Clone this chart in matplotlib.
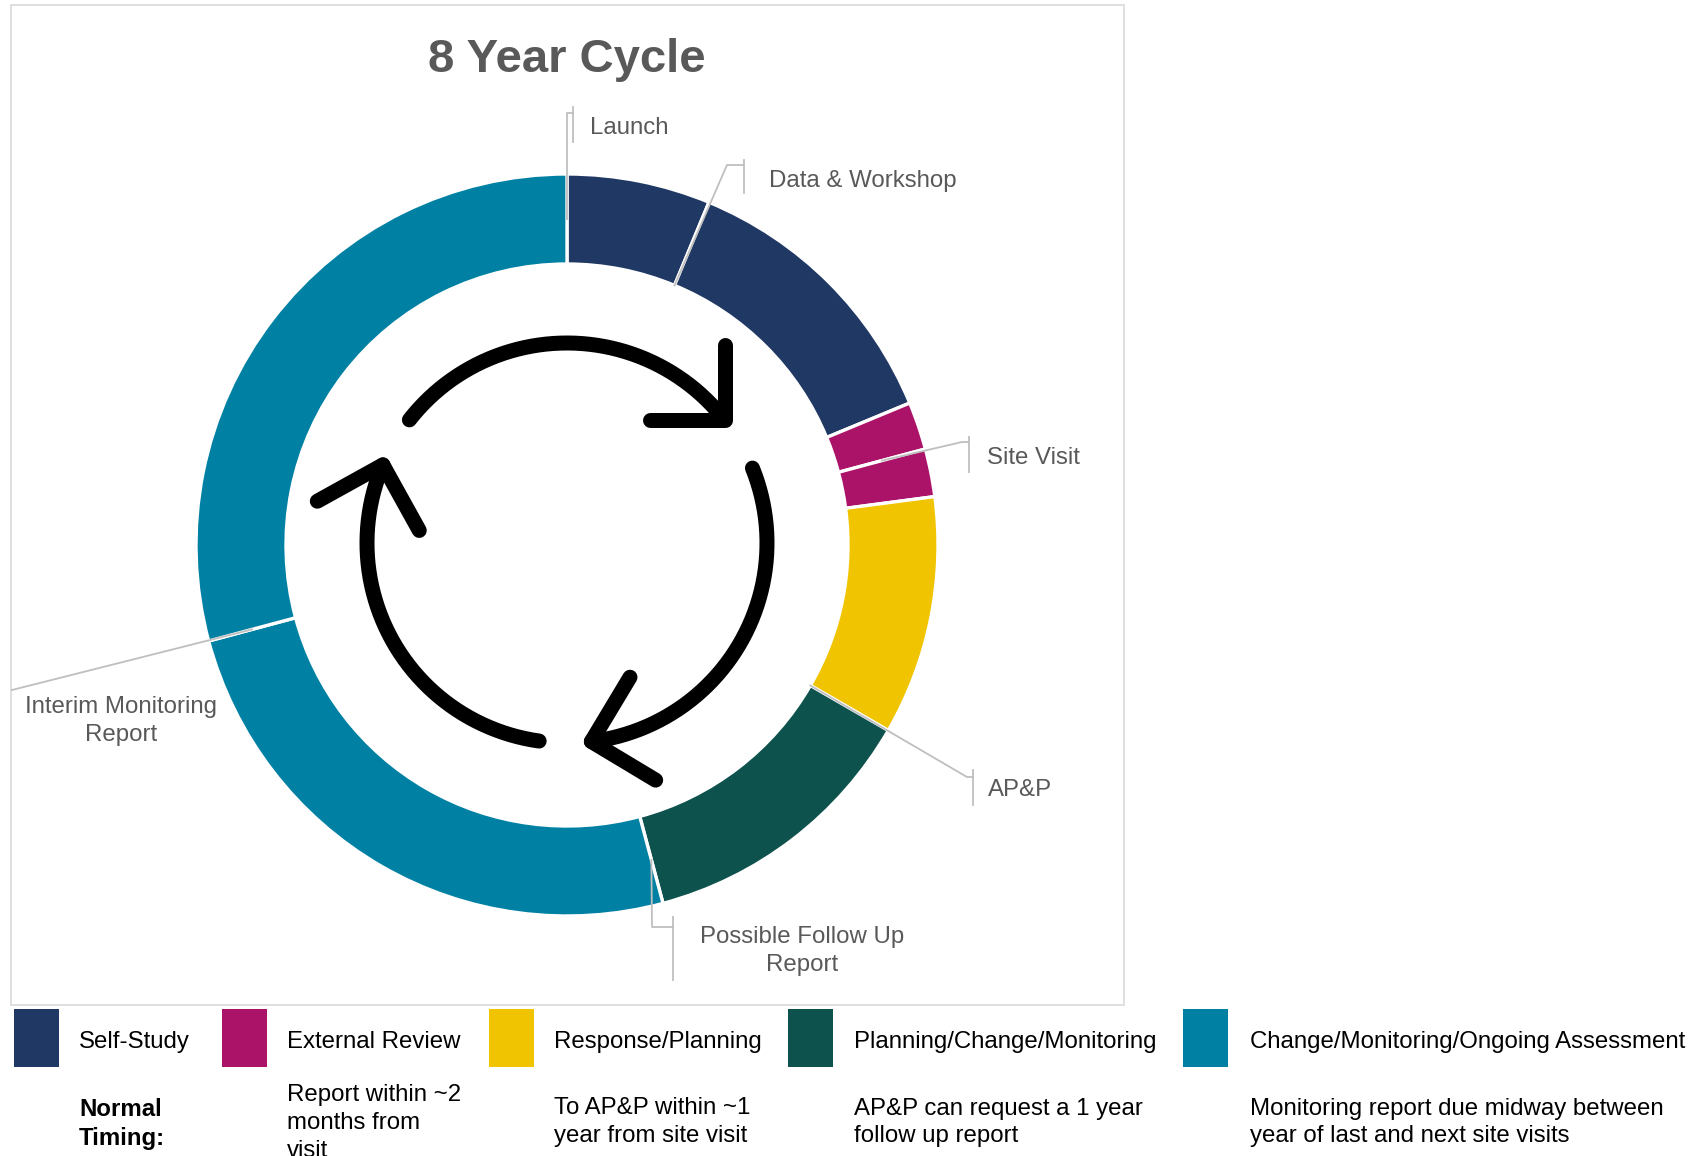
import numpy as np
import matplotlib
matplotlib.use("Agg")
import matplotlib.pyplot as plt
from matplotlib.patches import Rectangle

plt.rcParams['font.family'] = ['Liberation Sans', 'DejaVu Sans']

# ---------------- data ----------------
title = "8 Year Cycle"
segment_months = [6, 12, 2, 2, 10, 12, 24, 28]          # 96 months = 8 years
segment_phase = [0, 0, 1, 1, 2, 3, 4, 4]
phase_names = ["Self-Study", "External Review", "Response/Planning",
               "Planning/Change/Monitoring", "Change/Monitoring/Ongoing Assessment"]
phase_colors = ["#203864", "#AB1368", "#F0C400", "#0E524E", "#0080A3"]
timing_header = "Normal\nTiming:"
phase_timing = ["", "Report within ~2\nmonths from\nvisit", "To AP&P within ~1\nyear from site visit",
                "AP&P can request a 1 year\nfollow up report",
                "Monitoring report due midway between\nyear of last and next site visits"]
milestone_labels = ["Launch", "Data & Workshop", "Site Visit", "AP&P",
                    "Possible Follow Up\nReport", "Interim Monitoring\nReport"]
milestone_months = [0, 6, 20, 32, 44, 68]

# ---------------- layout ----------------
W, H = 1701, 1156
fig = plt.figure(figsize=(W / 100, H / 100), dpi=100)
ax = fig.add_axes([0, 0, 1, 1])

cx, cy = 567, H - 545
R_out, R_in = 371, 281
R_mid = (R_out + R_in) / 2
total = sum(segment_months)

ax.pie(segment_months, colors=[phase_colors[i] for i in segment_phase],
       radius=R_out, center=(cx, cy), startangle=90, counterclock=False,
       wedgeprops=dict(width=R_out - R_in, edgecolor='white', linewidth=2.4))
ax.set_xlim(0, W)
ax.set_ylim(0, H)
ax.set_aspect('auto')
ax.axis('off')


def S(x, ys):
    return (x, H - ys)


def polar(theta, r, c=(cx, cy)):
    t = np.deg2rad(theta)
    return (c[0] + r * np.sin(t), c[1] + r * np.cos(t))


LS = 1.34

# frame
ax.add_patch(Rectangle(S(11, 1005), 1113, 1000, fill=False, edgecolor='#D9D9D9', linewidth=1.2))

# title
ax.text(*S(567, 60.5), title, ha='center', va='center', fontsize=34, fontweight='bold', color='#595959')

# milestone leaders / labels
lead_col = '#BFBFBF'
start_r = [R_mid, R_in, R_mid, R_in, R_mid, R_mid]
paths = [[(567, 113), (573, 113)],
         [(727, 165), (744, 165)],
         [(962, 442), (969, 442)],
         [(967, 777), (973, 777)],
         [(652, 927), (673, 927)],
         [(12, 690)]]
bars = [(573, 107, 142), (744, 160, 193), (969, 437, 472), (973, 770, 805), (673, 917, 980), None]
text_pos = [(590, 127.5, 'left'), (769, 180.5, 'left'), (987, 457.5, 'left'), (988, 790, 'left'),
            (802, 951, 'center'), (121, 721, 'center')]
for lab, m, r, pth, bar, tp in zip(milestone_labels, milestone_months, start_r, paths, bars, text_pos):
    p0 = polar(360 * m / total, r)
    pts = [p0] + [S(*q) for q in pth]
    ax.plot([p[0] for p in pts], [p[1] for p in pts], color=lead_col, lw=1.3, zorder=5)
    if bar:
        ax.plot([bar[0], bar[0]], [H - bar[1], H - bar[2]], color=lead_col, lw=1.3, zorder=5)
    ax.text(*S(tp[0], tp[1]), lab, ha=tp[2], va='center', fontsize=17.3, color='#595959',
            multialignment='center', linespacing=LS)

# cycle arrows icon
ac = (cx, H - 543)
ar = 200
arcs = [(308, 412), (68, 173), (188, 293)]
for a0, a1 in arcs:
    th = np.linspace(a0, a1, 200)
    xs = ac[0] + ar * np.sin(np.deg2rad(th))
    ys = ac[1] + ar * np.cos(np.deg2rad(th))
    ax.plot(xs, ys, color='black', lw=10.8, solid_capstyle='round', zorder=6)
    t = np.deg2rad(a1)
    tip = np.array([xs[-1], ys[-1]])
    rev = np.array([-np.cos(t), np.sin(t)])
    inward = np.array([-np.sin(t), -np.cos(t)])
    g = np.deg2rad(7)
    axis = np.cos(g) * rev + np.sin(g) * inward
    arms = []
    for s in (45, -45):
        q = np.deg2rad(s)
        d = np.array([axis[0] * np.cos(q) - axis[1] * np.sin(q), axis[0] * np.sin(q) + axis[1] * np.cos(q)])
        arms.append(tip + 75 * d)
    ax.plot([arms[0][0], tip[0], arms[1][0]], [arms[0][1], tip[1], arms[1][1]], color='black', lw=10.8,
            solid_capstyle='round', solid_joinstyle='round', zorder=6)

# legend
sq_x = [13.5, 222, 489, 788, 1183]
txt_x = [79, 287, 554, 854, 1250]
for i, name in enumerate(phase_names):
    ax.add_patch(Rectangle(S(sq_x[i], 1067), 45, 58, facecolor=phase_colors[i], edgecolor='none'))
    ax.text(*S(txt_x[i], 1042), name, ha='left', va='center', fontsize=17.3, color='black')
    if phase_timing[i]:
        nlines = phase_timing[i].count('\n') + 1
        ytop = 1107 if nlines == 2 else 1094
        ax.text(*S(txt_x[i], ytop - 9.5), phase_timing[i], ha='left', va='top', fontsize=17.3,
                color='black', linespacing=LS)
ax.text(*S(txt_x[0], 1107 - 9.5), timing_header, ha='left', va='top', fontsize=17.3,
        fontweight='bold', color='black', linespacing=LS)

fig.savefig('out.png', dpi=100)
